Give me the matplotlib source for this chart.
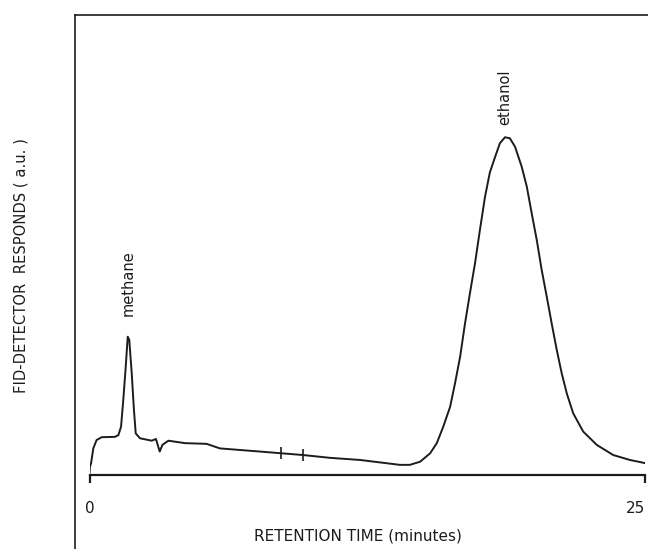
"""Gas chromatogram: FID response vs retention time (methane + ethanol peaks)."""
import matplotlib
matplotlib.use("Agg")
import matplotlib.pyplot as plt
from matplotlib.lines import Line2D

# trace (minutes, a.u.)
TIME = [0.00, 0.02, 0.07, 0.17, 0.32, 0.55, 1.15, 1.30, 1.42, 1.52, 1.63,
        1.72, 1.79, 1.90, 2.00, 2.08, 2.27, 2.80, 2.95, 2.99, 3.07, 3.16,
        3.28, 3.55, 4.30, 5.27, 5.87, 7.67, 8.65, 9.62, 10.83, 12.17,
        13.97, 14.42, 14.88, 15.33, 15.63, 15.92, 16.23, 16.45, 16.68, 16.90,
        17.12, 17.35, 17.57, 17.80, 18.02, 18.25, 18.47, 18.70, 18.92, 19.15,
        19.45, 19.68, 19.90, 20.13, 20.35, 20.58, 20.80, 21.03, 21.25, 21.48,
        21.77, 22.22, 22.83, 23.57, 24.32, 25.00]
SIGNAL = [0.5, 2.4, 3.3, 7.6, 10.0, 10.8, 10.9, 11.4, 13.8, 21.4, 30.9,
          39.5, 38.6, 29.1, 18.6, 11.9, 10.5, 9.8, 10.2, 10.3, 8.6, 6.7,
          8.6, 9.8, 9.1, 8.9, 7.6, 6.7, 6.2, 5.7, 4.9, 4.3,
          2.9, 2.9, 3.8, 6.2, 9.1, 13.8, 19.5, 26.2, 33.8, 43.3,
          51.9, 60.5, 70.0, 79.5, 86.5, 90.8, 94.8, 96.5, 96.2, 93.8,
          88.1, 82.4, 74.8, 67.1, 58.6, 50.9, 43.3, 35.7, 29.1, 23.3,
          17.6, 12.4, 8.6, 5.7, 4.3, 3.4]

# integrator marks on the baseline
MARK_TIME = [8.63, 9.62]
MARK_SIGNAL = [6.2, 5.6]

PEAK_NAMES = ["methane", "ethanol"]
PEAK_TIME = [1.72, 18.70]
PEAK_LABEL_Y = [45.4, 100.0]

XTICKS = [0, 25]
INK = "#1c1c1c"

W, H = 648, 549
fig = plt.figure(figsize=(W / 100, H / 100), dpi=100)
fig.patch.set_facecolor("white")

# axes placed so t=0..25 spans the drawn baseline
x0, x1, yb, yt = 89.5, 645, 475, 15
ax = fig.add_axes([x0 / W, (H - yb) / H, (x1 - x0) / W, (yb - yt) / H])
ax.set_xlim(0, 25)
ax.set_ylim(0, (yb - yt) / 3.5)
ax.patch.set_alpha(0)

ax.plot(TIME, SIGNAL, color=INK, lw=1.4, solid_joinstyle="round")
ax.plot(MARK_TIME, MARK_SIGNAL, ls="", marker="|", ms=8, mew=1.2, color=INK)

for name, t, y in zip(PEAK_NAMES, PEAK_TIME, PEAK_LABEL_Y):
    ax.text(t, y, name, rotation=90, ha="center", va="bottom", fontsize=10.5,
            color=INK)

for side in ("top", "right", "left"):
    ax.spines[side].set_visible(False)
ax.spines["bottom"].set_linewidth(1.6)
ax.spines["bottom"].set_color(INK)
ax.set_yticks([])
ax.set_xticks(XTICKS)
ax.set_xticklabels([str(v) for v in XTICKS])
ax.tick_params(axis="x", direction="out", length=6, width=1.6, pad=13,
               labelsize=11, colors=INK)
ax.get_xticklabels()[-1].set_horizontalalignment("right")
ax.get_xticklabels()[-1].set_x(25.15)
ax.set_xlabel("RETENTION TIME (minutes)", fontsize=11, color=INK)
ax.xaxis.set_label_coords(0.483, -0.117)

fig.text(21 / W, 1 - 266 / H, "FID-DETECTOR  RESPONDS ( a.u. )", rotation=90,
         ha="center", va="center", fontsize=10.6, color=INK)

# outer frame of the original figure (left and top edges)
fig.add_artist(Line2D([75 / W, 75 / W], [0, 1 - 15 / H], color=INK, lw=1.2))
fig.add_artist(Line2D([75 / W, 1], [1 - 15 / H, 1 - 15 / H], color=INK, lw=1.2))

fig.savefig("out.png", dpi=100)
